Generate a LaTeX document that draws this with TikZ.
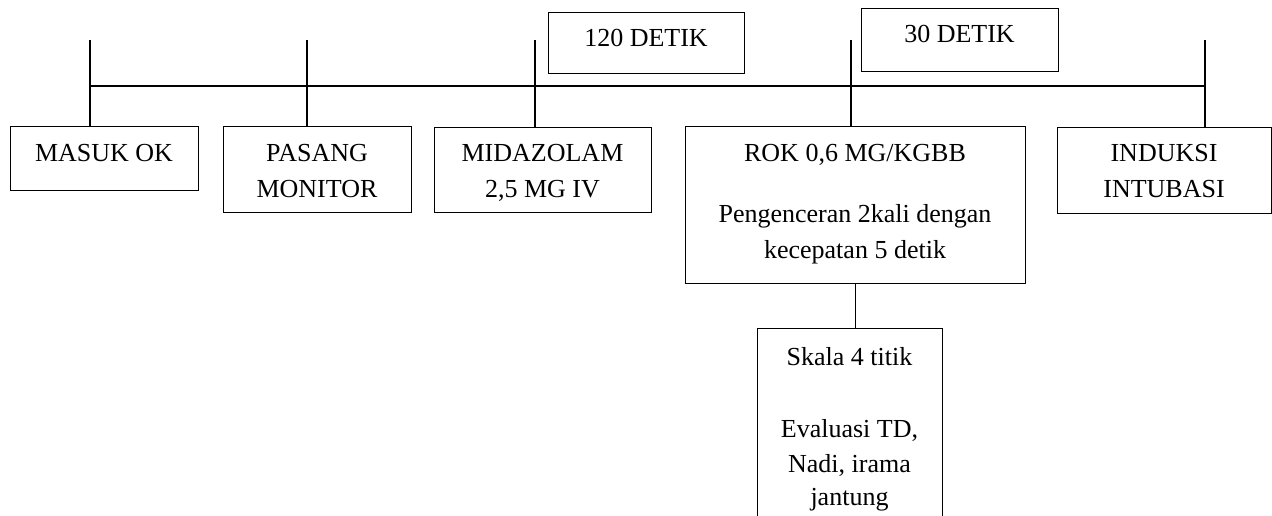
\documentclass[tikz,border=0pt]{standalone}
\usepackage{fontspec}
\setmainfont{Liberation Serif}
\begin{document}
\begin{tikzpicture}[x=1pt,y=-1pt,
  boxd/.style={draw, line width=1.4pt, inner sep=0pt, anchor=north west},
  txt/.style={anchor=base, inner sep=0pt, font=\fontsize{26}{35}\selectfont},
  ln/.style={line width=1.4pt}]
\useasboundingbox[fill=white] (0,0) rectangle (1272,516);
% boxes
\node[boxd, minimum width=188pt, minimum height=64pt] (masuk) at (10,126) {};
\node[boxd, minimum width=188pt, minimum height=86pt] (pasang) at (223,126) {};
\node[boxd, minimum width=217pt, minimum height=85pt] (midaz) at (434,127) {};
\node[boxd, minimum width=196pt, minimum height=61pt] (d120) at (548,12) {};
\node[boxd, minimum width=340pt, minimum height=157pt] (rok) at (685,126) {};
\node[boxd, minimum width=197pt, minimum height=63pt] (d30) at (861,8) {};
\node[boxd, minimum width=214pt, minimum height=86pt] (induksi) at (1057,127) {};
\node[boxd, minimum width=185pt, minimum height=220pt] (skala) at (757,328) {};
% texts
\node[txt] (masukT) at (104,162) {MASUK OK};
\node[txt] (pasangA) at (317,162) {PASANG};
\node[txt] (pasangB) at (317,197) {MONITOR};
\node[txt] (midA) at (542.5,162) {MIDAZOLAM};
\node[txt] (midB) at (542.5,197) {2,5 MG IV};
\node[txt] (d120T) at (646,47) {120 DETIK};
\node[txt] (rokA) at (855,162) {ROK 0,6 MG/KGBB};
\node[txt] (rokB) at (855,222) {Pengenceran 2kali dengan};
\node[txt] (rokC) at (855,258) {kecepatan 5 detik};
\node[txt] (d30T) at (959.5,43) {30 DETIK};
\node[txt] (indA) at (1164,162) {INDUKSI};
\node[txt] (indB) at (1164,197) {INTUBASI};
\node[txt] (skA) at (849.5,365) {Skala 4 titik};
\node[txt] (skB) at (849.5,437) {Evaluasi TD,};
\node[txt] (skC) at (849.5,472) {Nadi, irama};
\node[txt] (skD) at (849.5,505) {jantung};
% timeline
\coordinate (t1) at (90,40);
\coordinate (t2) at (307,40);
\coordinate (t3) at (535,40);
\coordinate (t4) at (851,40);
\coordinate (t5) at (1205,40);
\coordinate (h1) at (90,86);
\coordinate (h5) at (1205,86);
\draw[ln] (h1) -- (h5);
\draw[ln] (t1) -- (t1 |- masuk.north);
\draw[ln] (t2) -- (t2 |- pasang.north);
\draw[ln] (t3) -- (t3 |- midaz.north);
\draw[ln] (t4) -- (t4 |- rok.north);
\draw[ln] (t5) -- (t5 |- induksi.north);
\draw[ln] (rok.south) -- (rok.south |- skala.north);
\end{tikzpicture}
\end{document}
